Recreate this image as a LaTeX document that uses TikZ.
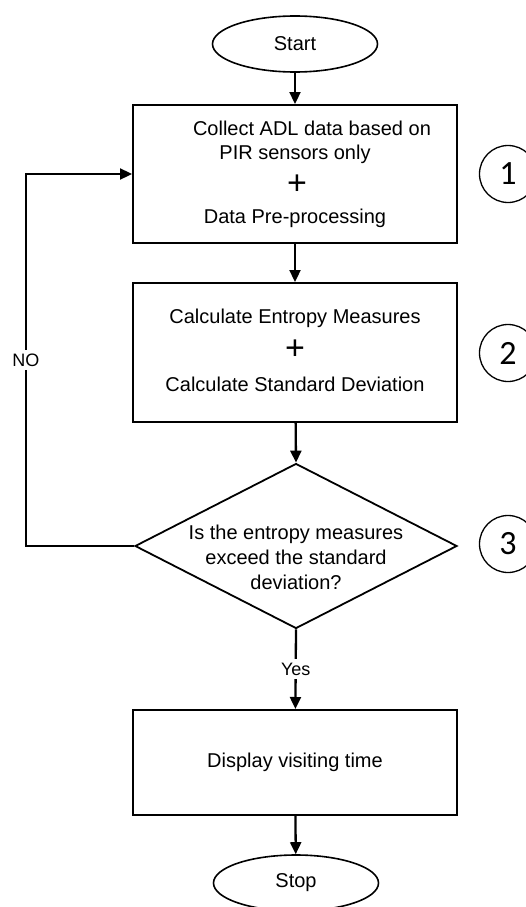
\documentclass[tikz,border=0pt]{standalone}
\usepackage{fontspec}
\setmainfont{Liberation Sans}
\newfontfamily\numfont{Carlito}
\usetikzlibrary{shapes.geometric,arrows.meta}
\begin{document}
\begin{tikzpicture}[x=1pt,y=-1pt,
  txt/.style={font=\fontsize{20}{25}\selectfont, inner sep=0pt, anchor=center},
  plus/.style={font=\fontsize{34}{34}\selectfont, inner sep=0pt},
  lbl/.style={font=\fontsize{18}{20}\selectfont, fill=white, inner sep=4pt},
  term/.style={ellipse, draw, line width=1.6pt, minimum width=165pt, minimum height=56pt, inner sep=0pt, font=\fontsize{20}{25}\selectfont},
  procbox/.style={rectangle, draw, line width=2pt, minimum width=324pt, inner sep=0pt},
  decis/.style={diamond, draw, line width=1.8pt, minimum width=322pt, minimum height=165pt, inner sep=0pt},
  stepnum/.style={circle, draw, line width=1.3pt, minimum size=57pt, inner sep=0pt, font=\numfont\fontsize{34}{34}\selectfont},
  conn/.style={line width=2.3pt, -{Triangle[length=12pt,width=11pt]}}
]
\useasboundingbox (0,0) rectangle (526,907);
\clip (0,0) rectangle (526,907);
\fill[white] (0,0) rectangle (526,907);

% nodes
\node[term] (start) at (295,44) {Start};
\node[procbox, minimum height=138pt] (box1) at (295,174) {};
\node[txt] (t1a) at (312,128) {Collect ADL data based on};
\node[txt] (t1b) at (295,154) {PIR sensors only};
\node[plus] (p1) at (297,185) {+};
\node[txt] (t1c) at (295,218) {Data Pre-processing};

\node[procbox, minimum height=139pt] (box2) at (295,352.5) {};
\node[txt] (t2a) at (295,318) {Calculate Entropy Measures};
\node[plus] (p2) at (295,350) {+};
\node[txt] (t2b) at (295,384) {Calculate Standard Deviation};

\node[decis] (dec) at (296,546) {};
\node[txt, align=center] (t3) at (296,557) {Is the entropy measures\\exceed the standard\\deviation?};

\node[procbox, minimum height=105pt] (box3) at (295,762.5) {};
\node[txt] (t4) at (295,762) {Display visiting time};

\node[term] (stop) at (296,883) {Stop};

\node[stepnum] (n1) at (508,174) {1};
\node[stepnum] (n2) at (508,353) {2};
\node[stepnum] (n3) at (508,544) {3};

\coordinate (lp) at (26,546);

% connectors
\draw[conn] (start) -- (box1);
\draw[conn] (box1) -- (box2);
\draw[conn] (box2) -- (dec.north);
\draw[conn] (dec.south) -- node[lbl] {Yes} (box3);
\draw[conn] (box3) -- (stop);
\draw[conn] (dec.west) -- (lp) |- node[lbl, pos=0.25] {NO} (box1.west);
\end{tikzpicture}
\end{document}
